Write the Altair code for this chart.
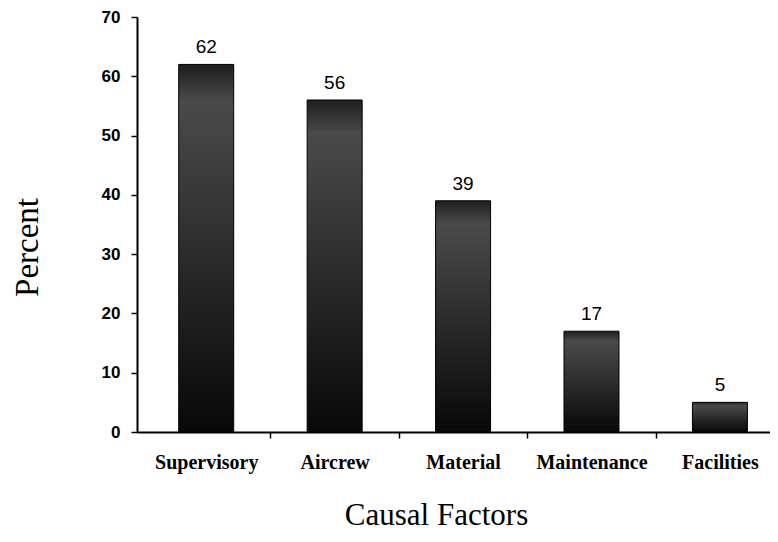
import json
import altair as alt
import pandas as pd

categories = ["Supervisory", "Aircrew", "Material", "Maintenance", "Facilities"]
percents = [62, 56, 39, 17, 5]
y_ticks = [0, 10, 20, 30, 40, 50, 60, 70]

positions = list(range(len(categories)))
df = pd.DataFrame({"factor": categories, "percent": percents, "idx": positions})

# category slots: centres at 0..4, slot boundaries at the half values
x_values = sorted(positions + [p + 0.5 for p in positions[:-1]])
names_js = json.dumps(categories)

x_axis = alt.Axis(
    title="Causal Factors",
    values=x_values,
    labelExpr=f"datum.value % 1 === 0 ? {names_js}[datum.value] : ''",
    labelAngle=0,
    labelOverlap=False,
    labelFlush=False,
    labelBound=False,
    labelFont="Liberation Serif",
    labelFontWeight="bold",
    labelFontSize=20,
    labelColor="black",
    labelPadding=14,
    tickSize=6,
    tickColor="black",
    tickWidth=1.5,
    tickOpacity={"condition": {"test": "datum.value % 1 === 0", "value": 0}, "value": 1},
    domainColor="black",
    domainWidth=2,
    grid=False,
    titleFont="Liberation Serif",
    titleFontSize=31,
    titleFontWeight="normal",
    titleColor="black",
    titleX=299,
    titleY=92,
    titleAlign="center",
    titleBaseline="alphabetic",
)

# one category slot = 130.5 px on a 633 px wide plot
x_scale = alt.Scale(domain=[-0.5, 4.351], nice=False, zero=False)

y_enc = alt.Y(
    "percent:Q",
    scale=alt.Scale(domain=[0, 70], nice=False),
    axis=alt.Axis(
        title="Percent",
        values=y_ticks,
        labelFont="Liberation Sans",
        labelFontWeight="bold",
        labelFontSize=17,
        labelColor="black",
        labelPadding=11,
        tickSize=6,
        tickColor="black",
        tickWidth=1.5,
        domainColor="black",
        domainWidth=2,
        grid=False,
        titleFont="Liberation Serif",
        titleFontSize=33,
        titleFontWeight="normal",
        titleColor="black",
        titleX=-110,
        titleY=230,
        titleAngle=270,
        titleAlign="center",
        titleBaseline="middle",
    ),
)

bar_fill = alt.Gradient(
    gradient="linear",
    stops=[
        alt.GradientStop(color="#1e1e1e", offset=0),
        alt.GradientStop(color="#4a4a4a", offset=0.1),
        alt.GradientStop(color="#383838", offset=0.35),
        alt.GradientStop(color="#1a1a1a", offset=0.75),
        alt.GradientStop(color="#080808", offset=1),
    ],
    x1=0, x2=0, y1=0, y2=1,
)

bars = alt.Chart(df).mark_bar(size=55, color=bar_fill, stroke="black", strokeWidth=1).encode(
    x=alt.X("idx:Q", scale=x_scale, axis=x_axis),
    y=y_enc,
)

labels = alt.Chart(df).mark_text(
    font="Liberation Sans", fontSize=19, color="black", dy=-11, baseline="alphabetic"
).encode(
    x=alt.X("idx:Q"),
    y=alt.Y("percent:Q"),
    text=alt.Text("percent:Q"),
)

chart = (
    alt.layer(bars, labels)
    .properties(
        width=633,
        height=415,
        autosize=alt.AutoSizeParams(type="none"),
        padding={"left": 129, "top": 9, "right": 0, "bottom": 102},
        background="white",
    )
    .configure_view(stroke=None)
)

chart.save("out.html", embed_options={"renderer": "svg", "actions": False})
